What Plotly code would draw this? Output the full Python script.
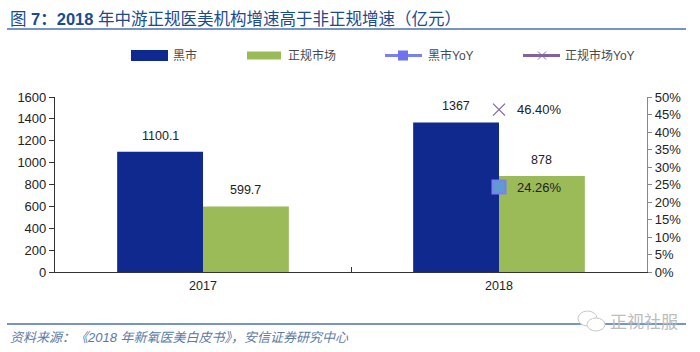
import plotly.graph_objects as go

years = ["2017", "2018"]
black_market = [1100.1, 1367]
regular_market = [599.7, 878]
black_yoy = [None, 24.26]
regular_yoy = [None, 46.40]
left_ticks = [0, 200, 400, 600, 800, 1000, 1200, 1400, 1600]
right_ticks = [0, 5, 10, 15, 20, 25, 30, 35, 40, 45, 50]
right_tick_labels = ["0%", "5%", "10%", "15%", "20%", "25%", "30%", "35%", "40%", "45%", "50%"]

title_text = "图 <b>7：2018</b> 年中游正规医美机构增速高于非正规增速（亿元）"
source_text = "资料来源：《2018 年新氧医美白皮书》，安信证券研究中心"
watermark_text = "正视社服"

W, H = 700, 352
ML, MR, MT, MB = 55, 53, 97, 80
PW, PH = W - ML - MR, H - MT - MB
FONT = "Liberation Sans, Arial, Noto Sans CJK SC, sans-serif"
BLUE, GREEN = "#10298f", "#9bbb59"
YOY1, YOY2 = "#7b7ff5", "#8064a2"
TXT = "#222222"


def px(x):
    return (x - ML) / PW


def py(y):
    return (H - MB - y) / PH


fig = go.Figure()
fig.add_bar(x=years, y=black_market, name="黑市", marker=dict(color=BLUE, line=dict(width=0)))
fig.add_bar(x=years, y=regular_market, name="正规市场", marker=dict(color=GREEN, line=dict(width=0)))
fig.add_scatter(x=years, y=black_yoy, name="黑市YoY", mode="markers", yaxis="y2",
                marker=dict(symbol="square", size=13, color="#5f9bd0",
                            line=dict(color=YOY1, width=2)))
fig.add_scatter(x=years, y=regular_yoy, name="正规市场YoY", mode="markers", yaxis="y2",
                marker=dict(symbol="x-thin-open", size=12, color=YOY2,
                            line=dict(color=YOY2, width=1.2)))

annotations = []
shapes = []


def note(x, y, text, size=12.5, color=TXT, anchor="center", **kw):
    annotations.append(dict(xref="paper", yref="paper", x=px(x), y=py(y), text=text,
                            showarrow=False, xanchor=anchor, yanchor="middle",
                            xshift=0, font=dict(size=size, color=color, family=FONT), **kw))


# value labels
for series, shift in ((black_market, -43), (regular_market, 42)):
    for i, val in enumerate(series):
        annotations.append(dict(x=i, y=val, xref="x", yref="y", text=f"{val:g}",
                                showarrow=False, xshift=shift, yshift=16,
                                font=dict(size=12.5, color=TXT, family=FONT)))
for series in (black_yoy, regular_yoy):
    for i, val in enumerate(series):
        if val is not None:
            annotations.append(dict(x=i, y=val, xref="x", yref="y2", text=f"{val:.2f}%",
                                    showarrow=False, xshift=40,
                                    font=dict(size=13, color=TXT, family=FONT)))

# rules
for rule_y in (29, 324):
    shapes.append(dict(type="line", xref="paper", yref="paper", x0=px(7), x1=px(686),
                       y0=py(rule_y), y1=py(rule_y), line=dict(color="#4a70b5", width=1.3)))

# title and source
note(8, 19, title_text, size=16.5, color="#1a4a90", anchor="left")
note(8, 337, f"<i>{source_text}</i>", size=13, color="#5b7ba6", anchor="left")

# legend
LEG_Y = 55.5
shapes.append(dict(type="rect", xref="paper", yref="paper", x0=px(131), x1=px(168),
                   y0=py(LEG_Y - 5.5), y1=py(LEG_Y + 5.5), fillcolor=BLUE, line=dict(width=0)))
shapes.append(dict(type="rect", xref="paper", yref="paper", x0=px(247), x1=px(281),
                   y0=py(LEG_Y - 4), y1=py(LEG_Y + 4), fillcolor=GREEN, line=dict(width=0)))
shapes.append(dict(type="line", xref="paper", yref="paper", x0=px(385), x1=px(422),
                   y0=py(LEG_Y), y1=py(LEG_Y), line=dict(color=YOY1, width=3)))
shapes.append(dict(type="rect", xref="paper", yref="paper", x0=px(398), x1=px(408),
                   y0=py(LEG_Y - 5), y1=py(LEG_Y + 5), fillcolor="#6f72ee", line=dict(width=0)))
shapes.append(dict(type="line", xref="paper", yref="paper", x0=px(523), x1=px(560),
                   y0=py(LEG_Y), y1=py(LEG_Y), line=dict(color=YOY2, width=3)))
for dy0, dy1 in ((-4, 4), (4, -4)):
    shapes.append(dict(type="line", xref="paper", yref="paper", x0=px(538), x1=px(546),
                       y0=py(LEG_Y + dy0), y1=py(LEG_Y + dy1), line=dict(color=YOY2, width=1)))
note(171, LEG_Y, "黑市", size=12, color="#4a4a4a", anchor="left")
note(286, LEG_Y, "正规市场", size=12, color="#4a4a4a", anchor="left")
note(426, LEG_Y, "黑市YoY", size=12, color="#4a4a4a", anchor="left")
note(563, LEG_Y, "正规市场YoY", size=12, color="#4a4a4a", anchor="left")

# watermark
for x0, x1, y0, y1 in ((578, 597, 311, 326), (587, 605, 318, 331)):
    shapes.append(dict(type="circle", xref="paper", yref="paper", x0=px(x0), x1=px(x1),
                       y0=py(y0), y1=py(y1), line=dict(color="#c8c8c8", width=1),
                       fillcolor="white"))
note(643.5, 322, watermark_text, size=17, color="#bdbdbd", anchor="center")

fig.update_layout(
    width=W, height=H, autosize=False,
    margin=dict(l=ML, r=MR, t=MT, b=MB, pad=0),
    paper_bgcolor="white", plot_bgcolor="white",
    barmode="group", bargap=0.42, bargroupgap=0,
    showlegend=False,
    font=dict(family=FONT, size=13, color=TXT),
    annotations=annotations, shapes=shapes,
    xaxis=dict(type="category", categoryorder="array", categoryarray=years,
               range=[-0.5, 1.5], autorange=False, tickson="boundaries", ticks="inside",
               ticklen=5, tickcolor="#333333", linecolor="#333333", linewidth=1.2,
               showline=True, showgrid=False, tickangle=0, ticklabelstandoff=2,
               tickfont=dict(size=12.5, color=TXT)),
    yaxis=dict(range=[0, 1600], tickvals=left_ticks, ticks="outside", ticklen=5,
               tickcolor="#333333", linecolor="#333333", linewidth=1.2, showline=True,
               showgrid=False, zeroline=False, tickfont=dict(size=13, color=TXT)),
    yaxis2=dict(range=[0, 50], tickvals=right_ticks, ticktext=right_tick_labels, overlaying="y",
                side="right", ticks="outside", ticklen=4, tickcolor="#888888",
                linecolor="#888888", linewidth=1.2, showline=True, showgrid=False,
                zeroline=False, tickfont=dict(size=13, color=TXT)),
)
fig.write_html("out.html", post_script="document.body.style.margin='0';",
               config=dict(displayModeBar=False))
